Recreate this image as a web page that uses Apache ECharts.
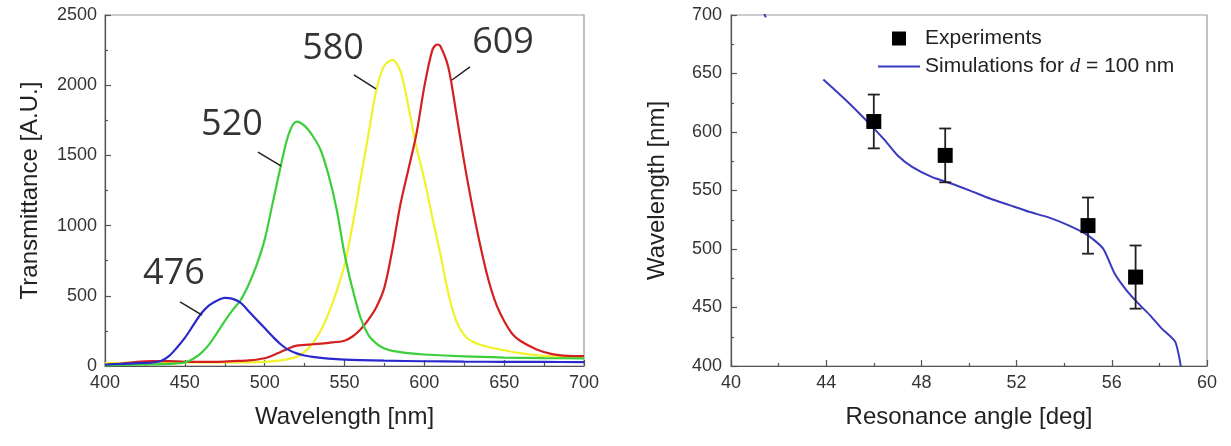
<!DOCTYPE html>
<html><head><meta charset="utf-8">
<script src="https://cdn.jsdelivr.net/npm/echarts/dist/echarts.min.js"></script>
<style>html,body{margin:0;padding:0;background:#fff}#c{width:1231px;height:446px}</style>
</head><body><div id="c"></div>
<script>
// ---- Left panel: transmittance spectra ----
const blueX  = [400,410,420,430,435,440,445,450,455,460,465,470,475,480,485,490,495,500,505,510,515,520,525,530,540,550,575,600,625,650,675,700];
const blueY  = [10,15,20,25,35,70,130,200,285,370,430,465,485,478,450,390,330,270,210,155,115,90,75,65,52,45,38,34,31,30,29,28];
const greenX = [400,420,440,450,455,460,465,470,475,480,485,490,495,500,505,510,515,520,525,530,535,540,545,550,555,560,565,570,575,580,590,600,625,650,675,700];
const greenY = [5,10,15,25,50,90,150,233,320,400,470,580,720,900,1160,1420,1650,1740,1710,1640,1540,1360,1120,800,550,345,220,160,125,108,92,82,68,60,56,55];
const yellowX = [400,420,440,460,480,500,510,520,525,530,535,540,545,550,555,560,565,570,575,580,585,590,595,600,605,610,615,620,625,630,640,650,660,675,700];
const yellowY = [20,25,25,25,25,30,40,65,100,160,250,375,530,720,1000,1330,1650,1970,2140,2180,2100,1850,1560,1330,1060,800,520,320,220,175,135,112,92,72,58];
const redX = [400,410,420,430,440,450,460,470,480,490,500,505,510,515,520,525,530,540,550,555,560,565,570,575,580,585,590,595,600,605,608,610,615,620,625,630,635,640,645,650,655,660,670,680,690,700];
const redY = [5,15,30,35,35,30,30,30,35,40,55,75,100,125,145,150,155,165,180,210,260,330,420,560,830,1150,1400,1650,1990,2250,2290,2280,2130,1800,1450,1140,860,620,440,320,230,180,120,85,72,70];

// annotation labels (data coordinates of the text centre and the leader lines)
const annoText  = ['476', '520', '580', '609'];
const annoPos   = [[443.2, 659], [479.5, 1720], [542.8, 2261], [649.3, 2304]];
const leadStart = [[447.0, 456], [495.8, 1524], [555.9, 2073], [628.6, 2130]];
const leadEnd   = [[460.8, 363], [510.2, 1425], [569.7, 1973], [617.3, 2037]];

// ---- Right panel: resonance angle vs wavelength ----
const expAngle = [46, 49, 55, 57];
const expWl    = [609, 580, 520, 476];
const expErr   = [23, 23, 24, 27];
const simAngle = [41.38, 41.46, '-', 43.88, 44.83, 45.81, 46.46, 46.99, 47.61, 48.43, 49.25, 50.07, 50.88, 51.70, 52.52, 53.34, 54.16, 54.98, 55.63, 56.12, 56.61, 57.11, 57.60, 58.09, 58.66, 58.90];
const simWl    = [702, 698, '-', 644.8, 627.1, 607.2, 593.0, 580.2, 570.2, 561.7, 556.0, 549.7, 543.2, 537.5, 531.8, 527.0, 520.4, 511.9, 500.5, 479.1, 464.9, 453.5, 443.5, 432.2, 420.8, 400];

const pairs = (xs, ys) => xs.map((x, i) => [x, ys[i]]);

const FONT = 'Liberation Sans';
const tickLabel = { color: '#333', fontSize: 18, fontFamily: FONT, margin: 8, formatter: v => String(v) };
const axisLine = { show: true, lineStyle: { color: '#555', width: 1.2 } };
const axisTick = { show: true, inside: true, length: 6, lineStyle: { color: '#555', width: 1.2 } };
const minorTick = { show: true, splitNumber: 2, length: 3, lineStyle: { color: '#555', width: 1.2 } };
const nameStyle = { color: '#222', fontSize: 24, fontFamily: FONT };

const chart = echarts.init(document.getElementById('c'), null, { renderer: 'canvas' });

const specLine = (name, xs, ys, color) => ({
  name, type: 'line', xAxisIndex: 0, yAxisIndex: 0, data: pairs(xs, ys),
  showSymbol: false, symbol: 'none', smooth: 0.3,
  lineStyle: { color, width: 2.2 }, itemStyle: { color }
});

chart.setOption({
  animation: false,
  backgroundColor: '#fff',
  grid: [
    { left: 105, top: 15, width: 479, height: 351, show: true, borderColor: '#999', borderWidth: 1.2, backgroundColor: 'transparent' },
    { left: 731, top: 15, width: 476, height: 351, show: true, borderColor: '#999', borderWidth: 1.2, backgroundColor: 'transparent' }
  ],
  xAxis: [
    { gridIndex: 0, type: 'value', min: 400, max: 700, interval: 50,
      axisLine, axisTick, minorTick, splitLine: { show: false }, minorSplitLine: { show: false },
      axisLabel: tickLabel,
      name: 'Wavelength [nm]', nameLocation: 'middle', nameGap: 39, nameTextStyle: nameStyle },
    { gridIndex: 1, type: 'value', min: 40, max: 60, interval: 4,
      axisLine, axisTick, minorTick, splitLine: { show: false }, minorSplitLine: { show: false },
      axisLabel: tickLabel,
      name: 'Resonance angle [deg]', nameLocation: 'middle', nameGap: 39, nameTextStyle: nameStyle }
  ],
  yAxis: [
    { gridIndex: 0, type: 'value', min: 0, max: 2500, interval: 500,
      axisLine, axisTick, minorTick, splitLine: { show: false }, minorSplitLine: { show: false },
      axisLabel: tickLabel,
      name: 'Transmittance [A.U.]', nameLocation: 'middle', nameGap: 63, nameRotate: 90, nameTextStyle: nameStyle },
    { gridIndex: 1, type: 'value', min: 400, max: 700, interval: 50,
      axisLine, axisTick, minorTick, splitLine: { show: false }, minorSplitLine: { show: false },
      axisLabel: Object.assign({}, tickLabel, { margin: 9 }),
      name: 'Wavelength [nm]', nameLocation: 'middle', nameGap: 62, nameRotate: 90, nameTextStyle: nameStyle }
  ],
  legend: {
    orient: 'vertical', left: 873, top: 23, itemWidth: 42, itemHeight: 14, itemGap: 7, itemTextGap: 2,
    textStyle: { fontSize: 21, fontFamily: FONT, color: '#222', lineHeight: 20,
      rich: { i: { fontSize: 21, fontStyle: 'italic', fontFamily: 'Liberation Serif', color: '#222' } } },
    formatter: n => n.indexOf('Simulations') === 0 ? 'Simulations for {i|d} = 100 nm' : n,
    data: [
      { name: 'Experiments', icon: 'path://M0,0H10V10H0Z' },
      { name: 'Simulations for d = 100 nm', icon: 'path://M0,0H42V2.2H0Z' }
    ]
  },
  series: [
    specLine('yellow', yellowX, yellowY, '#f2f22a'),
    specLine('red', redX, redY, '#d42020'),
    specLine('green', greenX, greenY, '#3ccf3c'),
    specLine('blue', blueX, blueY, '#2a2acc'),
    {
      name: 'anno', type: 'scatter', xAxisIndex: 0, yAxisIndex: 0,
      data: annoPos, symbolSize: 1, itemStyle: { color: 'transparent' }, silent: true,
      label: { show: true, position: 'inside', formatter: p => annoText[p.dataIndex],
        fontSize: 36, fontFamily: 'Open Sans', fontWeight: 500, color: '#000' },
      markLine: {
        silent: true, symbol: ['none', 'none'], label: { show: false },
        lineStyle: { color: '#222', width: 1.5, type: 'solid' },
        data: leadStart.map((s, i) => [{ coord: s }, { coord: leadEnd[i] }])
      }
    },
    {
      name: 'Simulations for d = 100 nm', type: 'line', xAxisIndex: 1, yAxisIndex: 1,
      data: pairs(simAngle, simWl), symbol: 'none', showSymbol: false, smooth: 0.2,
      lineStyle: { color: '#3a3ac0', width: 2 }, itemStyle: { color: '#3a3ac0' }, z: 2
    },
    {
      name: 'errbars', type: 'custom', xAxisIndex: 1, yAxisIndex: 1, z: 3,
      data: expAngle.map((a, i) => [a, expWl[i] - expErr[i], expWl[i] + expErr[i]]),
      renderItem: (params, api) => {
        const x = api.value(0), lo = api.coord([x, api.value(1)]), hi = api.coord([x, api.value(2)]);
        const w = 6, st = { stroke: '#222', lineWidth: 1.8 };
        return { type: 'group', children: [
          { type: 'line', shape: { x1: lo[0], y1: lo[1], x2: hi[0], y2: hi[1] }, style: st },
          { type: 'line', shape: { x1: lo[0] - w, y1: lo[1], x2: lo[0] + w, y2: lo[1] }, style: st },
          { type: 'line', shape: { x1: hi[0] - w, y1: hi[1], x2: hi[0] + w, y2: hi[1] }, style: st }
        ] };
      }
    },
    {
      name: 'Experiments', type: 'scatter', xAxisIndex: 1, yAxisIndex: 1, z: 4,
      data: pairs(expAngle, expWl), symbol: 'rect', symbolSize: 15,
      itemStyle: { color: '#000', opacity: 1 }
    }
  ]
});
</script>
</body></html>
